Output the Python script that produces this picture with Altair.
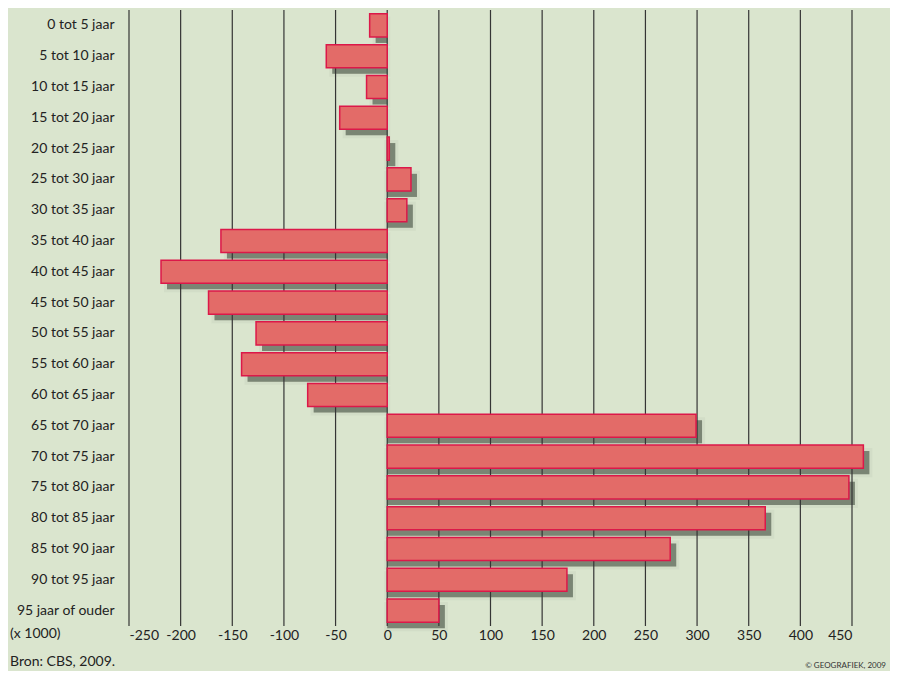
import altair as alt
import pandas as pd

categories = [
    "0 tot 5 jaar", "5 tot 10 jaar", "10 tot 15 jaar", "15 tot 20 jaar",
    "20 tot 25 jaar", "25 tot 30 jaar", "30 tot 35 jaar", "35 tot 40 jaar",
    "40 tot 45 jaar", "45 tot 50 jaar", "50 tot 55 jaar", "55 tot 60 jaar",
    "60 tot 65 jaar", "65 tot 70 jaar", "70 tot 75 jaar", "75 tot 80 jaar",
    "80 tot 85 jaar", "85 tot 90 jaar", "90 tot 95 jaar", "95 jaar of ouder",
]
values = [-17, -59, -20, -46, 2, 23, 19, -161, -219, -173, -127, -141, -77,
          299, 461, 447, 366, 274, 174, 50]
tick_values = [-250, -200, -150, -100, -50, 0, 50, 100, 150, 200, 250, 300, 350, 400, 450]

df = pd.DataFrame({"cat": categories, "val": values})
grid_df = pd.DataFrame({"g": tick_values})

FONT = "Lato"
BG = "#dae5ce"

x_enc = alt.X(
    "val:Q",
    scale=alt.Scale(domain=[-250, 450], nice=False, zero=False),
    axis=alt.Axis(values=tick_values, grid=False, ticks=False, domain=False,
                  labelFont=FONT, labelFontSize=14, labelColor="#222222",
                  labelPadding=2, title=None, labelExpr="'' + datum.value"),
)
y_enc = alt.Y(
    "cat:N",
    sort=categories,
    scale=alt.Scale(paddingInner=0.25, paddingOuter=0.125),
    axis=alt.Axis(ticks=False, domain=False, labelFont=FONT, labelFontSize=14,
                  labelColor="#222222", labelPadding=15, title=None),
)

shadow_outer = alt.Chart(df).mark_bar(
    xOffset=6, yOffset=6, color="#4d5a4a", opacity=0.25,
    stroke="#4d5a4a", strokeWidth=6, strokeOpacity=0.2,
).encode(x=x_enc, x2=alt.datum(0), y=y_enc)

shadow_inner = alt.Chart(df).mark_bar(
    xOffset=6, yOffset=6, color="#3f4a3c", opacity=0.5,
).encode(x=x_enc, x2=alt.datum(0), y=y_enc)

grid = alt.Chart(grid_df).mark_rule(color="#353535", strokeWidth=1.2).encode(
    x=alt.X("g:Q", scale=alt.Scale(domain=[-250, 450], nice=False, zero=False))
)

bars = alt.Chart(df).mark_bar(
    color="#e36b68", stroke="#dc1849", strokeWidth=1.5,
).encode(x=x_enc, x2=alt.datum(0), y=y_enc)

unit = alt.Chart(pd.DataFrame({"t": ["(x 1000)"]})).mark_text(
    align="left", baseline="middle", font=FONT, fontSize=14, color="#222222"
).encode(text="t:N", x=alt.value(-119), y=alt.value(624))

source = alt.Chart(pd.DataFrame({"t": ["Bron: CBS, 2009."]})).mark_text(
    align="left", baseline="middle", font=FONT, fontSize=14, color="#222222"
).encode(text="t:N", x=alt.value(-119), y=alt.value(652))

credit = alt.Chart(pd.DataFrame({"t": ["© GEOGRAFIEK, 2009"]})).mark_text(
    align="right", baseline="middle", font=FONT, fontSize=8, color="#333333"
).encode(text="t:N", x=alt.value(757), y=alt.value(656))

chart = alt.layer(shadow_outer, shadow_inner, grid, bars, unit, source, credit).properties(
    width=723,
    height=616,
    background=BG,
    padding={"left": 121, "top": 2, "right": 38, "bottom": 45},
    autosize=alt.AutoSizeParams(type="none"),
).configure_view(stroke=None)

chart.save("out.html", embed_options={"renderer": "svg", "actions": False})
